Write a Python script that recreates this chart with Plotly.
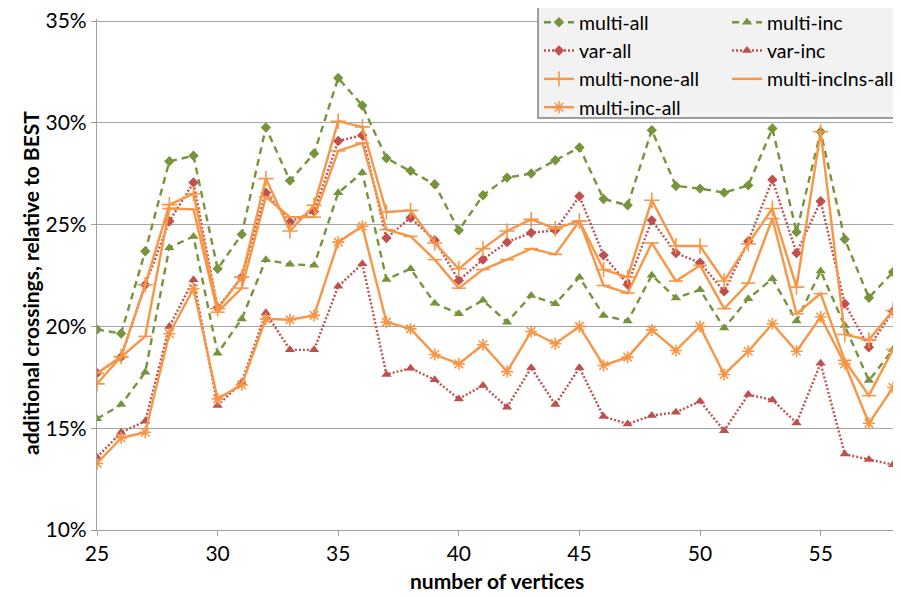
import plotly.graph_objects as go

vertices = list(range(25, 59))

multi_all = [19.85, 19.65, 23.69, 28.11, 28.38, 22.83, 24.52, 29.77, 27.16, 28.49,
             32.2, 30.85, 28.26, 27.64, 26.98, 24.72, 26.44, 27.31, 27.51, 28.16,
             28.79, 26.26, 25.95, 29.64, 26.9, 26.77, 26.57, 26.93, 29.72, 24.64,
             29.56, 24.28, 21.41, 22.67]
multi_inc = [15.46, 16.16, 17.75, 23.87, 24.42, 18.68, 20.37, 23.28, 23.05, 23.0,
             26.56, 27.56, 22.31, 22.83, 21.14, 20.62, 21.28, 20.21, 21.52, 21.11,
             22.42, 20.54, 20.26, 22.51, 21.39, 21.8, 19.92, 21.36, 22.34, 20.26,
             22.72, 20.05, 17.34, 18.87]
var_all = [17.7, 18.5, 22.05, 25.16, 27.07, 20.92, 22.42, 26.57, 25.13, 25.65,
           29.11, 29.39, 24.34, 25.34, 24.23, 22.26, 23.29, 24.14, 24.6, 24.72,
           26.39, 23.49, 22.06, 25.21, 23.6, 23.13, 21.72, 24.18, 27.21, 23.6,
           26.15, 21.11, 18.98, 20.75]
var_inc = [13.57, 14.8, 15.34, 20.0, 22.29, 16.11, 17.26, 20.67, 18.85, 18.85,
           21.97, 23.08, 17.64, 17.95, 17.38, 16.44, 17.1, 16.03, 17.97, 16.16,
           17.97, 15.57, 15.21, 15.62, 15.78, 16.32, 14.88, 16.65, 16.39, 15.26,
           18.19, 13.73, 13.46, 13.21]
multi_none_all = [17.18, 18.52, 22.05, 25.98, 26.52, 20.87, 22.42, 27.26, 24.69, 25.95,
                  30.08, 29.8, 25.62, 25.7, 24.1, 22.83, 23.82, 24.69, 25.26, 24.8,
                  25.18, 22.79, 22.42, 26.2, 23.95, 23.95, 22.23, 24.06, 25.79, 21.93,
                  29.56, 19.6, 19.34, 20.78]
multi_incins_all = [17.7, 18.5, 19.51, 25.79, 25.75, 20.7, 21.88, 26.36, 25.37, 25.37,
                    28.62, 29.01, 24.75, 24.42, 23.28, 21.88, 22.79, 23.28, 23.82, 23.54,
                    25.18, 22.01, 21.64, 24.1, 22.23, 23.0, 20.87, 22.13, 25.3, 20.62,
                    21.61, 18.33, 16.6, 18.87]
multi_inc_all = [13.27, 14.52, 14.8, 19.64, 21.85, 16.44, 17.13, 20.37, 20.33, 20.54,
                 24.14, 24.92, 20.21, 19.88, 18.62, 18.16, 19.1, 17.78, 19.75, 19.15,
                 20.0, 18.08, 18.49, 19.83, 18.82, 20.0, 17.64, 18.78, 20.13, 18.78,
                 20.46, 18.16, 15.24, 17.0]

x_ticks = [25, 30, 35, 40, 45, 50, 55]
y_ticks = [10, 15, 20, 25, 30, 35]
y_tick_labels = ["10%", "15%", "20%", "25%", "30%", "35%"]

GREEN = "#77933C"
RED = "#C0504D"
ORANGE = "#F79646"

# the page body adds an 8px offset; size the figure so it fits the 901x597 window
OFF = 8
W, H = 901 - OFF, 597 - OFF
L, T = 97 - OFF, 19 - OFF      # y range top 35.1 sits 2px above the 35% line (at 21)
R = W - (893 - OFF)
B = H - (530 - OFF)
PW = W - L - R
PH = H - T - B
Y_MIN, Y_MAX = 10, 35.1

fig = go.Figure()

def add(name, ys, color, dash, symbol, msize, legend, thin=False):
    marker = dict(symbol=symbol, size=msize, color=color)
    if thin:
        marker["line"] = dict(color=color, width=1.6)
    fig.add_trace(go.Scatter(
        x=vertices, y=ys, name=name, mode="lines+markers",
        line=dict(color=color, width=2.4, dash=dash),
        marker=marker, legend=legend))

add("multi-all", multi_all, GREEN, "7px,5px", "diamond", 8, "legend")
add("multi-inc", multi_inc, GREEN, "7px,5px", "triangle-up", 9, "legend2")
add("var-all", var_all, RED, "2px,2px", "diamond", 8, "legend")
add("var-inc", var_inc, RED, "2px,2px", "triangle-up", 9, "legend2")
add("multi-none-all", multi_none_all, ORANGE, "solid", "cross-thin", 11, "legend", thin=True)
add("multi-incIns-all", multi_incins_all, ORANGE, "solid", "line-ew", 10, "legend2", thin=True)
add("multi-inc-all", multi_inc_all, ORANGE, "solid", "asterisk", 10, "legend", thin=True)

def sx(px):
    # screen px -> paper x
    return (px - OFF - L) / PW

def sy(py):
    # screen px -> paper y
    return 1 - (py - OFF - T) / PH

FONT = "Lato"
legend_common = dict(
    bgcolor="rgba(0,0,0,0)", borderwidth=0, font=dict(family=FONT, size=19.5, color="#000"),
    itemwidth=30, tracegroupgap=0, xanchor="left", yanchor="top", orientation="v",
)

fig.update_layout(
    width=W, height=H,
    margin=dict(l=L, r=R, t=T, b=B, autoexpand=False),
    paper_bgcolor="white", plot_bgcolor="white",
    font=dict(family=FONT, size=21, color="#000"),
    legend=dict(x=sx(539), y=sy(3), **legend_common),
    legend2=dict(x=sx(727), y=sy(3), **legend_common),
    xaxis=dict(range=[25, 58], tickmode="array", tickvals=x_ticks,
               ticks="outside", ticklen=5, tickcolor="#a0a0a0",
               showline=True, linecolor="#a0a0a0", linewidth=1.2,
               showgrid=False, zeroline=False,
               tickfont=dict(family=FONT, size=21, color="#000")),
    yaxis=dict(range=[Y_MIN, Y_MAX], tickmode="array", tickvals=y_ticks, ticktext=y_tick_labels,
               ticks="outside", ticklen=5, tickcolor="#a0a0a0",
               showline=True, linecolor="#a0a0a0", linewidth=1.2,
               showgrid=True, gridcolor="#a6a6a6", gridwidth=1.2, zeroline=False,
               ticklabeloverflow="allow",
               tickfont=dict(family=FONT, size=21, color="#000")),
    shapes=[dict(type="rect", xref="paper", yref="paper",
                 x0=sx(538), x1=sx(900),
                 y0=sy(118), y1=sy(7),
                 fillcolor="#f2f2f2", line=dict(color="#808080", width=1.5),
                 layer="above")],
    annotations=[
        dict(text="<b>additional crossings, relative to BEST</b>", xref="paper", yref="paper",
             x=sx(30), y=sy(283), textangle=-90, showarrow=False,
             xanchor="center", yanchor="middle", font=dict(family=FONT, size=21, color="#000")),
        dict(text="<b>number of vertices</b>", xref="paper", yref="paper",
             x=sx(497), y=sy(580), showarrow=False,
             xanchor="center", yanchor="middle", font=dict(family=FONT, size=21, color="#000")),
    ],
)

fig.write_html("out.html")
